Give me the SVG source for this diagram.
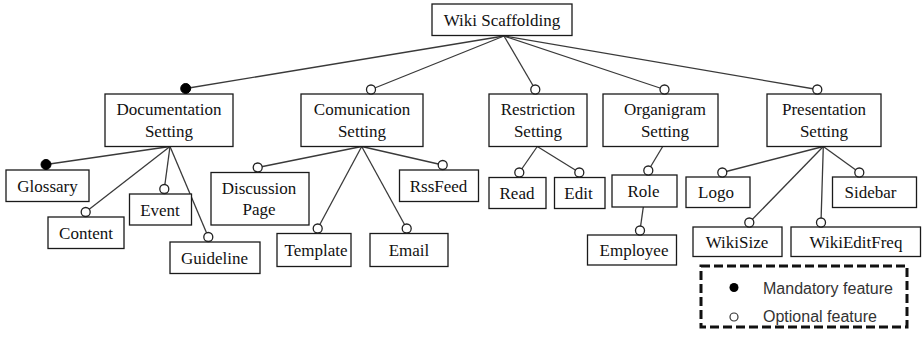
<svg xmlns="http://www.w3.org/2000/svg" width="924" height="342" viewBox="0 0 924 342">
  <style>
    .box { fill: #fff; stroke: #1a1a1a; stroke-width: 1.3; }
    .lbl { font-family: "Liberation Serif", "Times New Roman", serif; font-size: 17px; fill: #111; text-anchor: middle; }
    .edge { stroke: #3a3a3a; stroke-width: 1.3; fill: none; }
    .opt { fill: #fff; stroke: #222; stroke-width: 1.3; }
    .man { fill: #000; stroke: #000; stroke-width: 1; }
    .leg { font-family: "Liberation Sans", Arial, sans-serif; font-size: 16px; fill: #333; }
  </style>

  <!-- connectors: parent anchor to feature marker -->
  <g id="connectors">
    <line class="edge" x1="504" y1="36" x2="185.7" y2="88.5"/>
    <line class="edge" x1="504" y1="36" x2="371" y2="89.5"/>
    <line class="edge" x1="504" y1="36" x2="535.3" y2="89.5"/>
    <line class="edge" x1="504" y1="36" x2="664.5" y2="89.5"/>
    <line class="edge" x1="504" y1="36" x2="817.3" y2="89.5"/>

    <line class="edge" x1="170" y1="146.5" x2="46" y2="164.5"/>
    <line class="edge" x1="170" y1="146.5" x2="85.7" y2="212"/>
    <line class="edge" x1="170" y1="146.5" x2="164.3" y2="189"/>
    <line class="edge" x1="170" y1="146.5" x2="208.3" y2="237"/>

    <line class="edge" x1="361.7" y1="146.5" x2="257.7" y2="167.5"/>
    <line class="edge" x1="361.7" y1="146.5" x2="317.7" y2="228.5"/>
    <line class="edge" x1="361.7" y1="146.5" x2="406.7" y2="228.5"/>
    <line class="edge" x1="361.7" y1="146.5" x2="442.7" y2="165"/>

    <line class="edge" x1="537.3" y1="146.5" x2="519.3" y2="172.5"/>
    <line class="edge" x1="537.3" y1="146.5" x2="579.3" y2="172.5"/>

    <line class="edge" x1="662.7" y1="146.5" x2="648.3" y2="170.5"/>
    <line class="edge" x1="643.3" y1="207" x2="640" y2="230.5"/>

    <line class="edge" x1="823.3" y1="146.5" x2="722.3" y2="172.5"/>
    <line class="edge" x1="823.3" y1="146.5" x2="859.3" y2="172.5"/>
    <line class="edge" x1="823.3" y1="146.5" x2="749.3" y2="222.5"/>
    <line class="edge" x1="823.3" y1="146.5" x2="821" y2="222.5"/>
  </g>

  <g id="wiki-scaffolding">
    <rect class="box" x="432" y="4" width="140" height="31.5"/>
    <text class="lbl" x="502" y="26">Wiki Scaffolding</text>
  </g>

  <g id="documentation-setting">
    <rect class="box" x="105" y="94" width="128" height="52.5"/>
    <text class="lbl" x="169" y="115">Documentation</text>
    <text class="lbl" x="169" y="136.5">Setting</text>
    <circle class="man" cx="185.7" cy="88.5" r="5"/>
  </g>

  <g id="comunication-setting">
    <rect class="box" x="301" y="94" width="122" height="52.5"/>
    <text class="lbl" x="362" y="115">Comunication</text>
    <text class="lbl" x="362" y="136.5">Setting</text>
    <circle class="opt" cx="371" cy="89.5" r="4.5"/>
  </g>

  <g id="restriction-setting">
    <rect class="box" x="489" y="94" width="98" height="52.5"/>
    <text class="lbl" x="538" y="115">Restriction</text>
    <text class="lbl" x="538" y="136.5">Setting</text>
    <circle class="opt" cx="535.3" cy="89.5" r="4.5"/>
  </g>

  <g id="organigram-setting">
    <rect class="box" x="603" y="94" width="115" height="52.5"/>
    <text class="lbl" x="665" y="115">Organigram</text>
    <text class="lbl" x="665" y="136.5">Setting</text>
    <circle class="opt" cx="664.5" cy="89.5" r="4.5"/>
  </g>

  <g id="presentation-setting">
    <rect class="box" x="767" y="94" width="114" height="52.5"/>
    <text class="lbl" x="824" y="115">Presentation</text>
    <text class="lbl" x="824" y="136.5">Setting</text>
    <circle class="opt" cx="817.3" cy="89.5" r="4.5"/>
  </g>

  <g id="glossary">
    <rect class="box" x="6" y="170" width="83" height="31.5"/>
    <text class="lbl" x="47.5" y="191.5">Glossary</text>
    <circle class="man" cx="46" cy="164.5" r="5"/>
  </g>

  <g id="content">
    <rect class="box" x="48" y="217" width="76" height="31.5"/>
    <text class="lbl" x="86" y="238.5">Content</text>
    <circle class="opt" cx="85.7" cy="212" r="4.5"/>
  </g>

  <g id="event">
    <rect class="box" x="129.5" y="194" width="62" height="31"/>
    <text class="lbl" x="160" y="215.5">Event</text>
    <circle class="opt" cx="164.3" cy="189" r="4.5"/>
  </g>

  <g id="guideline">
    <rect class="box" x="170" y="242" width="90" height="31.5"/>
    <text class="lbl" x="214.5" y="263.5">Guideline</text>
    <circle class="opt" cx="208.3" cy="237" r="4.5"/>
  </g>

  <g id="discussion-page">
    <rect class="box" x="211" y="172.5" width="98" height="52.5"/>
    <text class="lbl" x="259" y="193.5">Discussion</text>
    <text class="lbl" x="259" y="215">Page</text>
    <circle class="opt" cx="257.7" cy="167.5" r="4.5"/>
  </g>

  <g id="template">
    <rect class="box" x="277" y="233.5" width="74" height="33"/>
    <text class="lbl" x="316" y="256">Template</text>
    <circle class="opt" cx="317.7" cy="228.5" r="4.5"/>
  </g>

  <g id="email">
    <rect class="box" x="370" y="233.5" width="78" height="33"/>
    <text class="lbl" x="409" y="256">Email</text>
    <circle class="opt" cx="406.7" cy="228.5" r="4.5"/>
  </g>

  <g id="rssfeed">
    <rect class="box" x="399.5" y="170" width="79" height="31.5"/>
    <text class="lbl" x="438.5" y="191.5">RssFeed</text>
    <circle class="opt" cx="442.7" cy="165" r="4.5"/>
  </g>

  <g id="read">
    <rect class="box" x="489" y="177.5" width="57" height="31"/>
    <text class="lbl" x="517" y="199">Read</text>
    <circle class="opt" cx="519.3" cy="172.5" r="4.5"/>
  </g>

  <g id="edit">
    <rect class="box" x="554.5" y="177.5" width="50.5" height="31"/>
    <text class="lbl" x="578.5" y="199">Edit</text>
    <circle class="opt" cx="579.3" cy="172.5" r="4.5"/>
  </g>

  <g id="role">
    <rect class="box" x="612" y="175" width="65" height="32"/>
    <text class="lbl" x="643.5" y="197">Role</text>
    <circle class="opt" cx="648.3" cy="170.5" r="4.5"/>
  </g>

  <g id="employee">
    <rect class="box" x="587.5" y="235" width="89" height="30"/>
    <text class="lbl" x="634" y="256">Employee</text>
    <circle class="opt" cx="640" cy="230.5" r="4.5"/>
  </g>

  <g id="logo">
    <rect class="box" x="686" y="177" width="64" height="30.5"/>
    <text class="lbl" x="716" y="198">Logo</text>
    <circle class="opt" cx="722.3" cy="172.5" r="4.5"/>
  </g>

  <g id="sidebar">
    <rect class="box" x="832.5" y="177" width="84" height="30.5"/>
    <text class="lbl" x="870.5" y="198">Sidebar</text>
    <circle class="opt" cx="859.3" cy="172.5" r="4.5"/>
  </g>

  <g id="wikisize">
    <rect class="box" x="693" y="227" width="89" height="29.5"/>
    <text class="lbl" x="737" y="247.5">WikiSize</text>
    <circle class="opt" cx="749.3" cy="222.5" r="4.5"/>
  </g>

  <g id="wikieditfreq">
    <rect class="box" x="791" y="227" width="129.5" height="29.5"/>
    <text class="lbl" x="856" y="247.5">WikiEditFreq</text>
    <circle class="opt" cx="821" cy="222.5" r="4.5"/>
  </g>

  <!-- legend -->
  <g id="legend">
    <rect x="701" y="266" width="206" height="61" fill="#fff" stroke="#111" stroke-width="3" stroke-dasharray="9 4"/>
    <circle cx="734" cy="287.5" r="4.5" fill="#000"/>
    <text class="leg" x="763" y="294">Mandatory feature</text>
    <circle cx="734" cy="317" r="4" fill="#fff" stroke="#333" stroke-width="1.2"/>
    <text class="leg" x="763" y="322">Optional feature</text>
  </g>
</svg>
